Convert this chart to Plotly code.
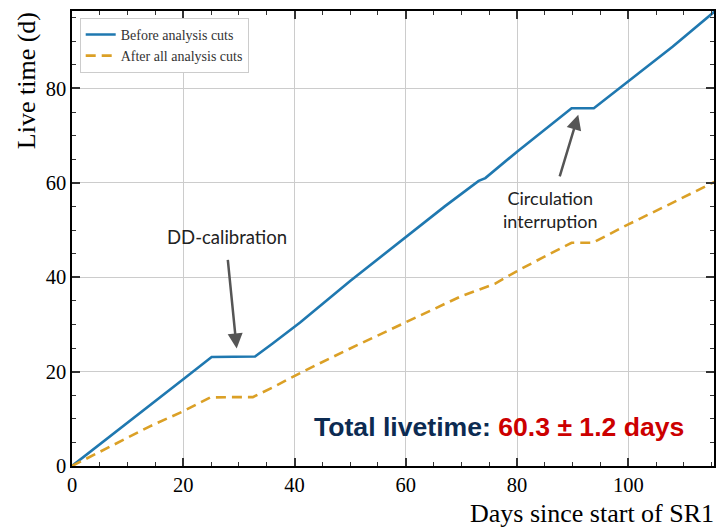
import plotly.graph_objects as go

# Accumulated live time during SR1 (days)
days_before = [0, 7, 14.3, 20, 25.1, 29, 32.9, 36, 41, 50, 60, 67, 73.1, 74.3,
               80, 86, 89.8, 93.8, 100, 108, 115.5]
live_before = [0, 6.5, 13.3, 18.4, 23.1, 23.2, 23.2, 25.9, 30.4, 39.2, 48.4, 55.0,
               60.4, 61.0, 66.6, 72.2, 75.8, 75.8, 81.5, 88.9, 96.3]

days_after = [0, 14, 20, 24.8, 28.5, 32.5, 36, 41.5, 50, 60, 70, 76, 80, 84.5,
              89.8, 93.6, 100, 108, 115.5]
live_after = [0, 8.4, 11.6, 14.5, 14.6, 14.6, 16.6, 20.0, 24.9, 30.5, 36.0, 38.6,
              41.3, 44.1, 47.3, 47.3, 51.2, 55.8, 60.2]

series_names = ["Before analysis cuts", "After all analysis cuts"]
x_ticks = [0, 20, 40, 60, 80, 100]
y_ticks = [0, 20, 40, 60, 80]

SERIF = "Liberation Serif, Times New Roman, serif"
SANS = "Lato, Noto Sans, sans-serif"

fig = go.Figure()
fig.add_trace(go.Scatter(
    x=days_before, y=live_before, mode="lines", name=series_names[0],
    line=dict(color="#1f78b0", width=2.6),
))
fig.add_trace(go.Scatter(
    x=days_after, y=live_after, mode="lines", name=series_names[1],
    line=dict(color="#dba026", width=2.6, dash="10px,6px"),
))

axis_common = dict(
    showline=True, linecolor="black", linewidth=1.5, mirror="ticks",
    ticks="inside", ticklen=8, tickwidth=1.5, tickcolor="#333",
    showgrid=True, gridcolor="#cccccc", gridwidth=1.2,
    zeroline=False,
    tickfont=dict(family=SERIF, size=20.5, color="black"),
    minor=dict(ticks="inside", ticklen=4, tickwidth=1.2, tickcolor="#333",
               dtick=5, showgrid=False),
)

fig.update_xaxes(range=[0, 115.4], tickvals=x_ticks, ticklabelstandoff=0,
                 **axis_common)
fig.update_yaxes(range=[0, 96.4], tickvals=y_ticks, **axis_common)

annotations = [
    # axis labels, placed at the axis ends
    dict(text="Live time (d)", xref="paper", yref="paper",
         x=-72 / 644 + 26 / 644, y=1 - (81 - 11) / 455, textangle=-90,
         xanchor="center", yanchor="middle", showarrow=False,
         font=dict(family=SERIF, size=26, color="black")),
    dict(text="Days since start of SR1", xref="paper", yref="paper",
         x=1.003, y=-(514 - 466.5) / 455, xanchor="right", yanchor="middle",
         showarrow=False, font=dict(family=SERIF, size=26, color="black")),
    # event callouts
    dict(text="DD-calibration", x=27.9, y=48.5, xanchor="center",
         yanchor="middle", showarrow=False,
         font=dict(family=SANS, size=18.5, color="#222")),
    dict(text="", x=29.6, y=24.9, ax=-9, ay=-90, showarrow=True,
         arrowhead=2, arrowsize=1.2, arrowwidth=2.5, arrowcolor="#555"),
    dict(text="Circulation<br>interruption", x=86.0, y=54.4, xanchor="center",
         yanchor="middle", showarrow=False,
         font=dict(family=SANS, size=18, color="#222")),
    dict(text="", x=91.0, y=74.4, ax=-19, ay=63, showarrow=True,
         arrowhead=2, arrowsize=1.2, arrowwidth=2.5, arrowcolor="#555"),
    # total live time
    dict(text="<b><span style='color:#0c2b52'>Total livetime:</span> "
              "<span style='color:#cc0000'>60.3 ± 1.2 days</span></b>",
         x=43.2, y=8.2, xanchor="left", yanchor="middle", showarrow=False,
         font=dict(family="Liberation Sans, Arial, sans-serif", size=26.6)),
]

fig.update_layout(
    width=718, height=527,
    margin=dict(l=72, r=2, t=11, b=61),
    plot_bgcolor="white", paper_bgcolor="white",
    showlegend=True,
    legend=dict(x=0.012, y=0.985, xanchor="left", yanchor="top",
                bgcolor="white", bordercolor="#cccccc", borderwidth=1,
                font=dict(family=SERIF, size=14, color="#333"),
                tracegroupgap=0),
    annotations=annotations,
)

fig.write_html("out.html")
